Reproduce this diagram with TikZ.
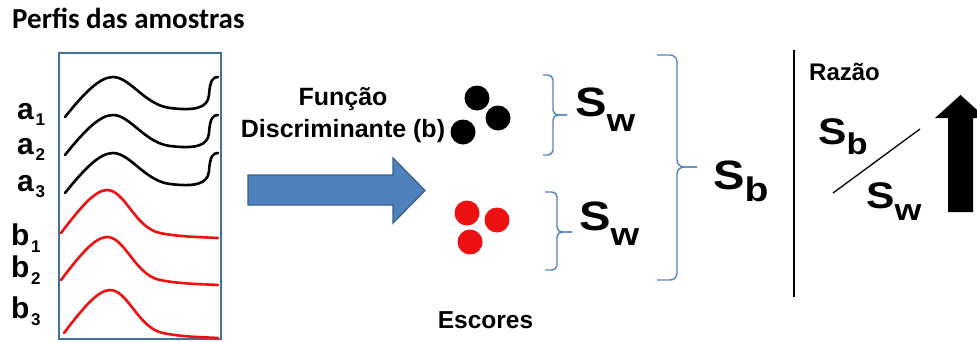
\documentclass[tikz,border=0pt]{standalone}
\usepackage{fontspec}
\setmainfont{Liberation Sans}
\newfontfamily\titlefont{Carlito}
\newcommand{\bigglyph}[2]{{\fontsize{#1}{#1}\selectfont\bfseries #2}}
\newcommand{\lowsub}[3]{\raisebox{-#2pt}{\fontsize{#1}{#1}\selectfont\bfseries #3}}
\begin{document}
\begin{tikzpicture}[x=1pt,y=-1pt,
  lbl/.style={inner sep=0pt,anchor=base west},
  sym/.style={inner sep=0pt,anchor=base west,xscale=1.15},
  boxline/.style={draw=boxblue,line width=2.4pt},
  spec/.style={line width=2.6pt,line cap=round,line join=round},
  bracket/.style={draw=braceblue,line width=1.4pt,rounded corners=5pt},
  dotshape/.style={circle,minimum size=25pt,inner sep=0pt}]
\definecolor{boxblue}{HTML}{41719C}
\definecolor{braceblue}{HTML}{5582BD}
\definecolor{arrowfill}{HTML}{4F81BD}
\definecolor{arrowedge}{HTML}{385D8A}
\definecolor{specred}{HTML}{EE1111}
\useasboundingbox (0,0) rectangle (977,341);

% title
\node[lbl] (title) at (12,28)
  {\titlefont\fontsize{29}{29}\selectfont\bfseries Perfis das amostras};

% frame holding the profiles
\node[boxline,minimum width=162pt,minimum height=286pt,inner sep=0pt,anchor=north west] (frame) at (58,52) {};

% black profiles (group a)
\foreach \dy in {0,38,76}{
  \draw[spec,black] (65,117+\dy) .. controls (85,92+\dy) and (100,77+\dy) .. (113,77+\dy)
     .. controls (130,77+\dy) and (145,105+\dy) .. (170,108+\dy)
     .. controls (195,111+\dy) and (208,108+\dy) .. (209,95+\dy)
     .. controls (210,80+\dy) and (213,77+\dy) .. (218,77+\dy);
}
% red profiles (group b)
\foreach \dx/\dy in {0/0,0/47,3/100}{
  \draw[spec,specred] (61+\dx,233+\dy) .. controls (80+\dx,208+\dy) and (95+\dx,190+\dy) .. (107+\dx,190+\dy)
     .. controls (125+\dx,190+\dy) and (135+\dx,228+\dy) .. (160+\dx,233+\dy)
     .. controls (180+\dx,237+\dy) and (200,237+\dy) .. (218,238+\dy);
}

% sample labels
\node[lbl] (a1) at (17,119) {\bigglyph{30}{a}\,\lowsub{17}{6}{1}};
\node[lbl] (a2) at (17,154) {\bigglyph{30}{a}\,\lowsub{17}{6}{2}};
\node[lbl] (a3) at (17,191) {\bigglyph{30}{a}\,\lowsub{17}{6}{3}};
\node[lbl] (b1) at (11,245) {\bigglyph{30}{b}\,\lowsub{17}{7}{1}};
\node[lbl] (b2) at (11,277) {\bigglyph{30}{b}\,\lowsub{17}{7}{2}};
\node[lbl] (b3) at (11,318) {\bigglyph{30}{b}\,\lowsub{17}{7}{3}};

% discriminant function label and arrow
\node[inner sep=0pt,anchor=base] (fn1) at (343,105) {\fontsize{25}{25}\selectfont\bfseries Função};
\node[inner sep=0pt,anchor=base] (fn2) at (343,137) {\fontsize{25}{25}\selectfont\bfseries Discriminante (b)};
\draw[fill=arrowfill,draw=arrowedge,line width=1.3pt,line join=miter]
  (248,175) -- (393,175) -- (393,158) -- (425,190.5) -- (393,223) -- (393,205) -- (248,205) -- cycle;

% scores
\node[dotshape,fill=black] (ka) at (477,98) {};
\node[dotshape,fill=black] (kb) at (498,118) {};
\node[dotshape,fill=black] (kc) at (463,132) {};
\node[dotshape,fill=specred] (ra) at (467,213) {};
\node[dotshape,fill=specred] (rb) at (497,220) {};
\node[dotshape,fill=specred] (rc) at (470,242) {};
\node[inner sep=0pt,anchor=base] (esc) at (485.5,328) {\fontsize{24.5}{24.5}\selectfont\bfseries Escores};

% braces
\draw[bracket] (543,75) -- (553,75) -- (553,115) -- (567,115);
\draw[bracket] (543,155) -- (553,155) -- (553,115) -- (567,115);
\draw[bracket] (545,192) -- (557,192) -- (557,232) -- (572,232);
\draw[bracket] (545,270) -- (557,270) -- (557,232) -- (572,232);
\draw[bracket,rounded corners=7pt] (657,55) -- (677,55) -- (677,167) -- (697,167);
\draw[bracket,rounded corners=7pt] (657,280) -- (677,280) -- (677,167) -- (697,167);

% scatter symbols
\node[sym] (sw1) at (575,116) {\bigglyph{41}{S}\lowsub{32}{15}{w}};
\node[sym] (sw2) at (579,230) {\bigglyph{41}{S}\lowsub{32}{15}{w}};
\node[sym] (sb) at (713,189) {\bigglyph{41}{S}\lowsub{34}{12}{b}};

% separator
\draw[line width=1.4pt] (794,50) -- (794,297);

% ratio
\node[lbl] (raz) at (809,80) {\fontsize{24}{24}\selectfont\bfseries Razão};
\node[sym] (rnum) at (818,144) {\bigglyph{37}{S}\lowsub{30}{10}{b}};
\node[sym] (rden) at (866,208) {\bigglyph{37}{S}\lowsub{30}{12}{w}};
\coordinate (sl1) at (833,193);
\coordinate (sl2) at (920,129);
\draw[line width=1.3pt] (sl1) -- (sl2);

% increase arrow
\fill[black] (948,212) -- (948,118) -- (935,118) -- (960.5,95) -- (986,118) -- (973,118) -- (973,212) -- cycle;
\end{tikzpicture}
\end{document}
